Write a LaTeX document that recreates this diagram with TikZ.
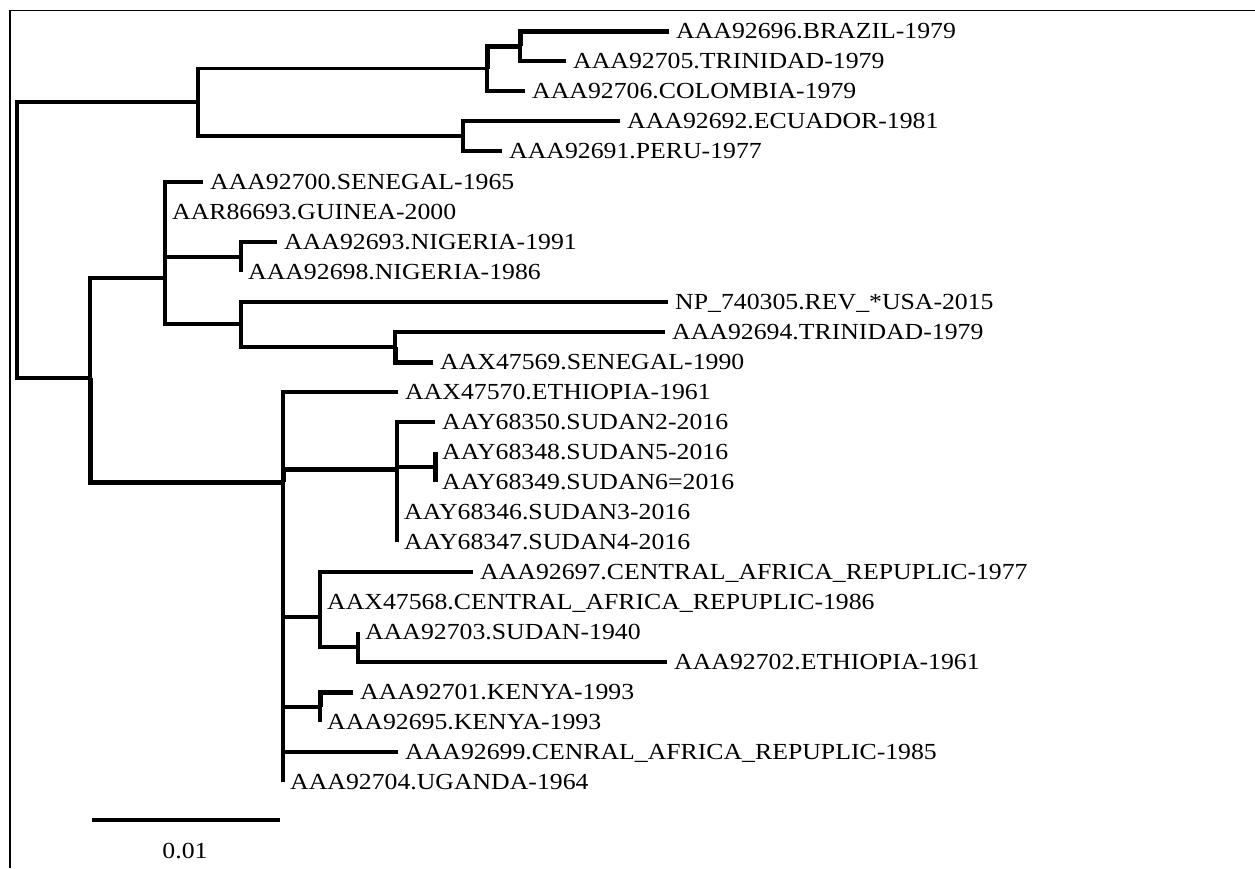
\documentclass[tikz,border=0pt]{standalone}
\usepackage{fontspec}
\setmainfont{Liberation Serif}[FakeStretch=1.12]
\usepackage{tikz}
\usetikzlibrary{positioning}
\tikzset{
  branch/.style={line width=3.4pt},
  heavy/.style={line width=5pt},
  leaf/.style={inner sep=0pt, text height=15pt, text depth=0pt, font=\fontsize{23}{26}\selectfont},
}
\def\leafgap{7pt}

\begin{document}
\begin{tikzpicture}[x=1pt, y=-1pt]
		\useasboundingbox (0,0) rectangle (1255,868);
		\draw[line width=1.5pt] (10,868) |- (1255,10.5);
		% inner nodes
		\coordinate (r) at (17,240);
		\coordinate (a) at (198,102);
		\coordinate (a1) at (487,68.5);
		\coordinate (a11) at (520,46);
		\coordinate (a2) at (463,136);
		\coordinate (b) at (90,378);
		\coordinate (b1) at (165,278);
		\coordinate (b11) at (241,257);
		\coordinate (b12) at (241,324);
		\coordinate (b121) at (395,347);
		\coordinate (b2) at (283,482);
		\coordinate (b21) at (397,469);
		\coordinate (b211) at (435,467);
		\coordinate (b22) at (320,617);
		\coordinate (b221) at (358,647);
		\coordinate (b23) at (320,707);
		% tips
		\coordinate (t1) at (669,31);
		\coordinate (t2) at (566,61);
		\coordinate (t3) at (525,91);
		\coordinate (t4) at (620,121);
		\coordinate (t5) at (502,151);
		\coordinate (t6) at (203,182);
		\coordinate (t7) at (165,212);
		\coordinate (t8) at (277,242);
		\coordinate (t9) at (241,272);
		\coordinate (t10) at (668,302);
		\coordinate (t11) at (665,332);
		\coordinate (t12) at (433,362);
		\coordinate (t13) at (398,392);
		\coordinate (t14) at (435,422);
		\coordinate (t15) at (435,452);
		\coordinate (t16) at (435,482);
		\coordinate (t17) at (397,512);
		\coordinate (t18) at (397,542);
		\coordinate (t19) at (473,572);
		\coordinate (t20) at (320,602);
		\coordinate (t21) at (358,632);
		\coordinate (t22) at (667,662);
		\coordinate (t23) at (353,692);
		\coordinate (t24) at (320,722);
		\coordinate (t25) at (398,752);
		\coordinate (t26) at (283,782);
		% labels
		\node[leaf, right=\leafgap of t1] (l1) {AAA92696.BRAZIL-1979};
		\node[leaf, right=\leafgap of t2] (l2) {AAA92705.TRINIDAD-1979};
		\node[leaf, right=\leafgap of t3] (l3) {AAA92706.COLOMBIA-1979};
		\node[leaf, right=\leafgap of t4] (l4) {AAA92692.ECUADOR-1981};
		\node[leaf, right=\leafgap of t5] (l5) {AAA92691.PERU-1977};
		\node[leaf, right=\leafgap of t6] (l6) {AAA92700.SENEGAL-1965};
		\node[leaf, right=\leafgap of t7] (l7) {AAR86693.GUINEA-2000};
		\node[leaf, right=\leafgap of t8] (l8) {AAA92693.NIGERIA-1991};
		\node[leaf, right=\leafgap of t9] (l9) {AAA92698.NIGERIA-1986};
		\node[leaf, right=\leafgap of t10] (l10) {NP\_740305.REV\_*USA-2015};
		\node[leaf, right=\leafgap of t11] (l11) {AAA92694.TRINIDAD-1979};
		\node[leaf, right=\leafgap of t12] (l12) {AAX47569.SENEGAL-1990};
		\node[leaf, right=\leafgap of t13] (l13) {AAX47570.ETHIOPIA-1961};
		\node[leaf, right=\leafgap of t14] (l14) {AAY68350.SUDAN2-2016};
		\node[leaf, right=\leafgap of t15] (l15) {AAY68348.SUDAN5-2016};
		\node[leaf, right=\leafgap of t16] (l16) {AAY68349.SUDAN6=2016};
		\node[leaf, right=\leafgap of t17] (l17) {AAY68346.SUDAN3-2016};
		\node[leaf, right=\leafgap of t18] (l18) {AAY68347.SUDAN4-2016};
		\node[leaf, right=\leafgap of t19] (l19) {AAA92697.CENTRAL\_AFRICA\_REPUPLIC-1977};
		\node[leaf, right=\leafgap of t20] (l20) {AAX47568.CENTRAL\_AFRICA\_REPUPLIC-1986};
		\node[leaf, right=\leafgap of t21] (l21) {AAA92703.SUDAN-1940};
		\node[leaf, right=\leafgap of t22] (l22) {AAA92702.ETHIOPIA-1961};
		\node[leaf, right=\leafgap of t23] (l23) {AAA92701.KENYA-1993};
		\node[leaf, right=\leafgap of t24] (l24) {AAA92695.KENYA-1993};
		\node[leaf, right=\leafgap of t25] (l25) {AAA92699.CENRAL\_AFRICA\_REPUPLIC-1985};
		\node[leaf, right=\leafgap of t26] (l26) {AAA92704.UGANDA-1964};
		% branches
		\draw[branch] (r) |- (a);
		\draw[branch] (r) |- (b);
		\draw[branch] (a) |- (a1);
		\draw[branch] (a) |- (a2);
		\draw[heavy] (a1) |- (a11);
		\draw[branch] (a1) |- (t3);
		\draw[heavy] (a11) |- (t1);
		\draw[branch] (a11) |- (t2);
		\draw[branch] (a2) |- (t4);
		\draw[branch] (a2) |- (t5);
		\draw[branch] (b) |- (b1);
		\draw[heavy] (b) |- (b2);
		\draw[branch] (b1) |- (t6);
		\draw[branch] (b1) |- (t7);
		\draw[branch] (b1) |- (b11);
		\draw[branch] (b1) |- (b12);
		\draw[branch] (b11) |- (t8);
		\draw[branch] (b11) |- (t9);
		\draw[branch] (b12) |- (t10);
		\draw[branch] (b12) |- (b121);
		\draw[branch] (b121) |- (t11);
		\draw[heavy] (b121) |- (t12);
		\draw[branch] (b2) |- (t13);
		\draw[heavy] (b2) |- (b21);
		\draw[branch] (b2) |- (b22);
		\draw[branch] (b2) |- (b23);
		\draw[branch] (b2) |- (t25);
		\draw[branch] (b2) |- (t26);
		\draw[branch] (b21) |- (t14);
		\draw[branch] (b21) |- (b211);
		\draw[branch] (b21) |- (t17);
		\draw[branch] (b21) |- (t18);
		\draw[heavy] (b211) |- (t15);
		\draw[heavy] (b211) |- (t16);
		\draw[branch] (b22) |- (t19);
		\draw[branch] (b22) |- (t20);
		\draw[branch] (b22) |- (b221);
		\draw[branch] (b221) |- (t21);
		\draw[branch] (b221) |- (t22);
		\draw[heavy] (b23) |- (t23);
		\draw[branch] (b23) |- (t24);
		% scale bar
		\coordinate (s0) at (92,820);
		\coordinate (s1) at (280,820);
		\draw[branch] (s0) -- (s1);
		\node[leaf, anchor=center] (sl) at (185,851) {0.01};
	\end{tikzpicture}
\end{document}
